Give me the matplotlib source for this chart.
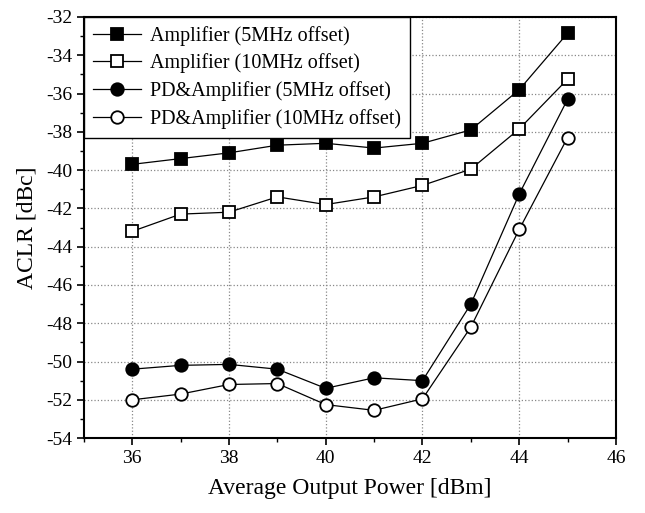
import matplotlib
matplotlib.use('Agg')
import matplotlib.pyplot as plt
from matplotlib.ticker import MultipleLocator

plt.rcParams['font.family'] = ['Liberation Serif', 'DejaVu Serif']
plt.rcParams['axes.unicode_minus'] = False

power = [36, 37, 38, 39, 40, 41, 42, 43, 44, 45]
amp_5mhz = [-39.7, -39.4, -39.1, -38.7, -38.6, -38.85, -38.6, -37.9, -35.8, -32.85]
amp_10mhz = [-43.2, -42.3, -42.2, -41.4, -41.8, -41.4, -40.8, -39.95, -37.85, -35.25]
pd_5mhz = [-50.4, -50.2, -50.15, -50.4, -51.4, -50.85, -51.0, -47.0, -41.25, -36.3]
pd_10mhz = [-52.0, -51.7, -51.2, -51.15, -52.25, -52.55, -51.95, -48.2, -43.1, -38.3]

labels = ['Amplifier (5MHz offset)', 'Amplifier (10MHz offset)',
          'PD&Amplifier (5MHz offset)', 'PD&Amplifier (10MHz offset)']

fig = plt.figure(figsize=(6.45, 5.13), dpi=100)
ax = fig.add_axes([0.130, 0.146, 0.825, 0.821])

style = dict(color='black', lw=0.9, markersize=9, markeredgewidth=1.3,
             markeredgecolor='black')
ax.plot(power, amp_5mhz, marker='s', markerfacecolor='black', label=labels[0], **style)
ax.plot(power, amp_10mhz, marker='s', markerfacecolor='white', label=labels[1], **style)
ax.plot(power, pd_5mhz, marker='o', markerfacecolor='black', label=labels[2], **style)
ax.plot(power, pd_10mhz, marker='o', markerfacecolor='white', label=labels[3], **style)

ax.set_xlim(35, 46)
ax.set_ylim(-54, -32)
ax.xaxis.set_major_locator(MultipleLocator(2))
ax.xaxis.set_minor_locator(MultipleLocator(1))
ax.yaxis.set_major_locator(MultipleLocator(2))
ax.yaxis.set_minor_locator(MultipleLocator(1))
ax.tick_params(which='major', direction='out', length=5, width=1.2, labelsize=14)
ax.tick_params(which='minor', direction='out', length=3, width=1.0)
ax.grid(True, which='major', color='#888888', linestyle=':', linewidth=0.9)
for sp in ax.spines.values():
    sp.set_linewidth(1.5)

ax.set_xlabel('Average Output Power [dBm]', fontsize=17, labelpad=8)
ax.set_ylabel('ACLR [dBc]', fontsize=17, labelpad=6)

leg = ax.legend(loc='upper left', fontsize=14.5, frameon=True, fancybox=False,
                borderaxespad=0, handlelength=2.4, handletextpad=0.45,
                labelspacing=0.38, borderpad=0.45)
leg.get_frame().set_edgecolor('black')
leg.get_frame().set_linewidth(1.0)
leg.get_frame().set_alpha(1)

fig.savefig('out.png', dpi=100)
